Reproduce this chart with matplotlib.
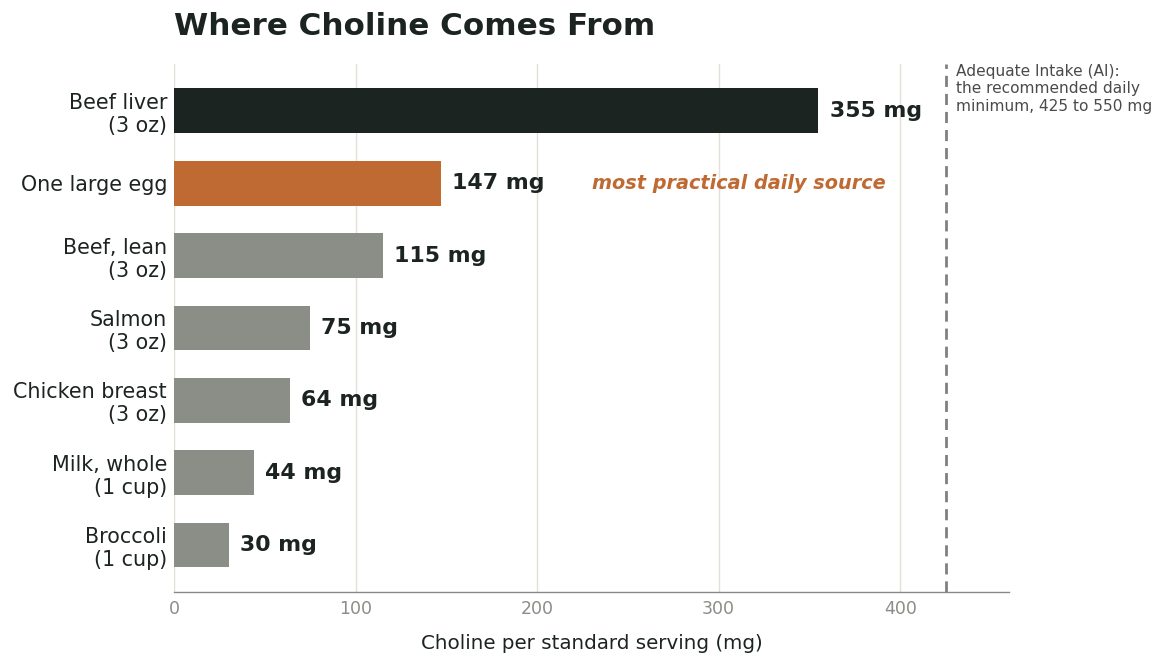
import matplotlib.pyplot as plt
import numpy as np

foods = ['Beef liver\n(3 oz)', 'One large egg', 'Beef, lean\n(3 oz)', 'Salmon\n(3 oz)',
         'Chicken breast\n(3 oz)', 'Milk, whole\n(1 cup)', 'Broccoli\n(1 cup)']
choline_mg = [355, 147, 115, 75, 64, 44, 30]
ai_min = 425

DARK = '#1c2421'
ORANGE = '#c06a33'
GREY = '#8a8e86'

colors = [DARK, ORANGE] + [GREY] * (len(foods) - 2)

fig = plt.figure(figsize=(11.72, 6.72), dpi=100)
ax = fig.add_axes([0.1485, 0.119, 0.7125, 0.786])

y = np.arange(len(foods))
ax.barh(y, choline_mg, height=0.62, color=colors, zorder=2)

# value labels at the end of each bar
for yi, v in zip(y, choline_mg):
    ax.annotate(f'{v} mg', xy=(v, yi), xytext=(8, 0), textcoords='offset points',
                ha='left', va='center', fontsize=15.8, fontweight='bold', color=DARK)

ax.text(230, 1, 'most practical daily source', ha='left', va='center',
        fontsize=13.9, fontweight='bold', fontstyle='italic', color=ORANGE)

# adequate intake line
ax.axvline(ai_min, color='#808080', lw=2, ls=(0, (4, 2.5)), zorder=3)
ax.text(ai_min + 6, 1.0, 'Adequate Intake (AI):\nthe recommended daily\nminimum, 425 to 550 mg',
        transform=ax.get_xaxis_transform(), ha='left', va='top',
        fontsize=11.1, color='#4a4a4a', clip_on=False, linespacing=1.2)

ax.set_xlim(0, 460)
ax.set_ylim(6.65, -0.65)
ax.set_yticks(y)
ax.set_yticklabels(foods, fontsize=14.9, color=DARK)
ax.set_xticks([0, 100, 200, 300, 400])
ax.tick_params(axis='both', length=0)
ax.tick_params(axis='y', pad=5)
ax.tick_params(axis='x', pad=6, labelsize=12.5, labelcolor=GREY)

ax.grid(axis='x', color='#e3e0d6', lw=1, zorder=0)
ax.set_axisbelow(True)
for s in ['top', 'right', 'left']:
    ax.spines[s].set_visible(False)
ax.spines['bottom'].set_color('#888888')
ax.spines['bottom'].set_linewidth(1)

ax.set_xlabel('Choline per standard serving (mg)', fontsize=14.3, color=DARK, labelpad=11)
ax.set_title('Where Choline Comes From', loc='left', fontsize=22.3, fontweight='bold',
             color=DARK, pad=21)

fig.savefig('out.png', dpi=100)
